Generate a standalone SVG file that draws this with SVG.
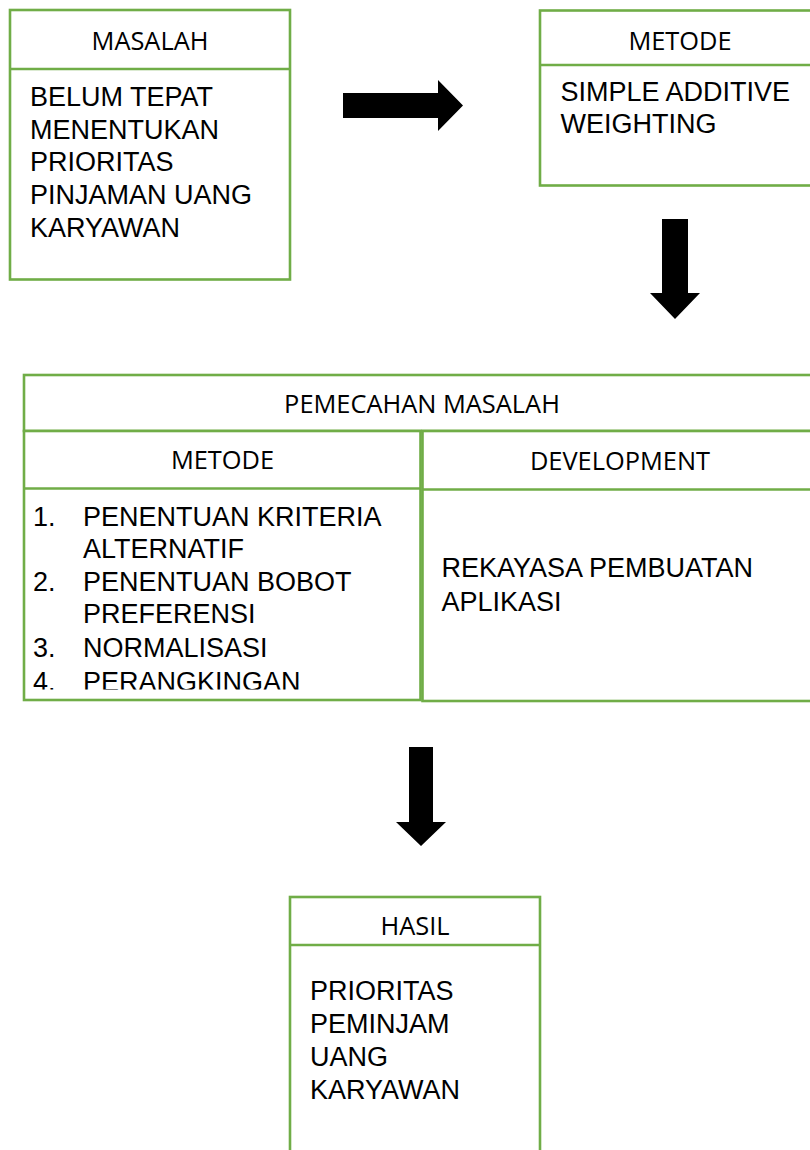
<svg xmlns="http://www.w3.org/2000/svg" width="810" height="1150" viewBox="0 0 810 1150">
<defs>
<style>
.box{fill:#fff;stroke:#70AD47;stroke-width:2.6}
.ln{stroke:#70AD47;stroke-width:2.6;fill:none}
.hd{font-family:"Open Sans","Liberation Sans",sans-serif;font-size:25.4px;fill:#000;text-anchor:middle}
.tx{font-family:"Liberation Sans",Arial,sans-serif;font-size:27px;fill:#000}
.arr{fill:#000}
</style>
<clipPath id="clipList"><rect x="24" y="488" width="397" height="201.5"/></clipPath>
</defs>
<rect width="810" height="1150" fill="#fff"/>

<g id="masalah">
<rect class="box" x="10" y="10" width="280" height="269.5"/>
<line class="ln" x1="10" y1="69" x2="290" y2="69"/>
<text class="hd" x="150" y="49.5">MASALAH</text>
<text class="tx" x="30" y="106">BELUM TEPAT</text>
<text class="tx" x="30" y="138.5">MENENTUKAN</text>
<text class="tx" x="30" y="171">PRIORITAS</text>
<text class="tx" x="30" y="204">PINJAMAN UANG</text>
<text class="tx" x="30" y="237">KARYAWAN</text>
</g>

<g id="metode-top">
<rect class="box" x="540" y="10.5" width="280" height="175"/>
<line class="ln" x1="540" y1="65" x2="820" y2="65"/>
<text class="hd" x="680" y="50">METODE</text>
<text class="tx" x="560.5" y="100.5">SIMPLE ADDITIVE</text>
<text class="tx" x="560.5" y="133">WEIGHTING</text>
</g>

<g id="pemecahan">
<rect class="box" x="24" y="375" width="796" height="56"/>
<text class="hd" x="422" y="412.5">PEMECAHAN MASALAH</text>
</g>

<g id="metode-list">
<rect class="box" x="24" y="431" width="396.5" height="269"/>
<line class="ln" x1="24" y1="488.5" x2="420.5" y2="488.5"/>
<text class="hd" x="222.5" y="469">METODE</text>
<g clip-path="url(#clipList)">
<text class="tx" x="33" y="525.5">1.</text>
<text class="tx" x="83" y="525.5">PENENTUAN KRITERIA</text>
<text class="tx" x="83" y="557.5">ALTERNATIF</text>
<text class="tx" x="33" y="590.5">2.</text>
<text class="tx" x="83" y="590.5">PENENTUAN BOBOT</text>
<text class="tx" x="83" y="623.3">PREFERENSI</text>
<text class="tx" x="33" y="657.3">3.</text>
<text class="tx" x="83" y="657.3">NORMALISASI</text>
<text class="tx" x="33" y="690.5">4.</text>
<text class="tx" x="83" y="690.5">PERANGKINGAN</text>
</g>
</g>

<g id="development">
<rect class="box" x="422.5" y="431" width="397.5" height="270"/>
<line class="ln" x1="422.5" y1="489.5" x2="820" y2="489.5"/>
<text class="hd" x="620" y="470">DEVELOPMENT</text>
<text class="tx" x="441.5" y="577">REKAYASA PEMBUATAN</text>
<text class="tx" x="441.5" y="610.5">APLIKASI</text>
</g>

<g id="hasil">
<rect class="box" x="290" y="897" width="250" height="270"/>
<line class="ln" x1="290" y1="945" x2="540" y2="945"/>
<text class="hd" x="415" y="935">HASIL</text>
<text class="tx" x="310" y="1000">PRIORITAS</text>
<text class="tx" x="310" y="1033">PEMINJAM</text>
<text class="tx" x="310" y="1065.5">UANG</text>
<text class="tx" x="310" y="1099">KARYAWAN</text>
</g>

<g id="connectors">
<polygon class="arr" points="343,93 438,93 438,80 463,105.5 438,131 438,118 343,118"/>
<polygon class="arr" points="662,219 688,219 688,293 700,293 675,319 650,293 662,293"/>
<polygon class="arr" points="409,747 433,747 433,822 446,822 421,846 396,822 409,822"/>
</g>
</svg>
